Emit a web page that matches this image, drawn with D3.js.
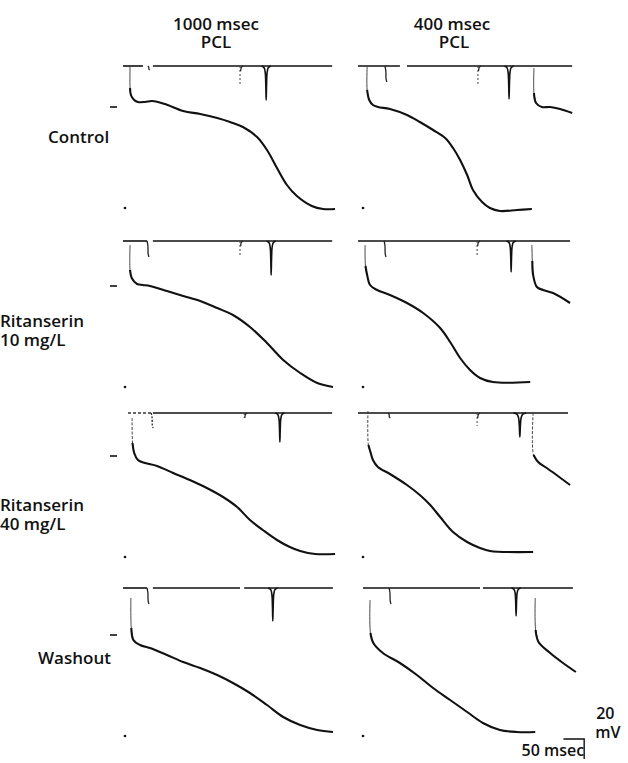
<!DOCTYPE html>
<html>
<head>
<meta charset="utf-8">
<script src="https://cdn.jsdelivr.net/npm/d3@7"></script>
<style>
  body { margin: 0; background: #fff; }
  text { font-family: "Open Sans", "DejaVu Sans", sans-serif; font-weight: 600; fill: #111; }
</style>
</head>
<body>
<div id="chart"></div>
<script>
// column headings (pacing cycle length) and row labels
const columnTitles = ["1000 msec", "400 msec"];
const rowLabels = [["Control"], ["Ritanserin", "10 mg/L"], ["Ritanserin", "40 mg/L"], ["Washout"]];

// action potentials, [time ms, membrane potential mV], one array per panel
const apControl1000 = [[17,41],[17,19],[19,12],[27,7],[36,5],[53,5],[70,6],[101,3],[145,-4],[186,-7],[227,-11],[258,-15],[289,-20],[323,-30],[347,-43],[371,-61],[395,-78],[419,-89],[455,-99],[482,-102],[511,-102]];
const apControl400 = [[22,40],[22,17],[27,7],[36,2],[48,0],[77,-2],[118,-8],[149,-15],[181,-23],[210,-31],[229,-41],[246,-53],[263,-68],[277,-83],[299,-95],[318,-101],[342,-104],[383,-103],[419,-102]];
const apControl400Next = [[424,39],[424,14],[429,4],[443,0],[463,0],[487,-2],[516,-6]];

const apRit10_1000 = [[17,41],[17,16],[21,8],[34,2],[48,1],[65,0],[106,-5],[145,-10],[186,-15],[227,-22],[265,-29],[306,-41],[347,-57],[386,-74],[427,-87],[468,-97],[506,-101]];
const apRit10_400 = [[17,41],[18,20],[22,11],[29,1],[46,-4],[77,-9],[118,-17],[157,-27],[198,-42],[222,-56],[246,-72],[270,-84],[294,-92],[325,-96],[415,-96]];
const apRit10_400Next = [[419,41],[420,25],[422,11],[431,-1],[446,-4],[470,-7],[511,-17]];

const apRit40_1000 = [[22,38],[23,13],[27,3],[36,-4],[53,-7],[82,-10],[121,-17],[161,-24],[202,-32],[241,-41],[275,-51],[306,-64],[337,-74],[371,-84],[402,-91],[427,-95],[463,-98],[511,-98]];
const apRit40_400 = [[24,45],[25,11],[30,4],[36,-4],[48,-11],[77,-18],[118,-29],[149,-39],[174,-49],[198,-61],[229,-76],[263,-86],[294,-92],[318,-95],[422,-96]];
const apRit40_400Next = [[422,43],[423,1],[434,-6],[455,-12],[511,-29]];

const apWash1000 = [[19,37],[20,7],[25,-5],[41,-10],[65,-13],[106,-20],[145,-27],[186,-33],[227,-40],[265,-48],[306,-58],[347,-70],[386,-82],[427,-90],[468,-95],[506,-97]];
const apWash400 = [[29,35],[30,2],[37,-8],[60,-18],[101,-28],[142,-40],[181,-53],[222,-65],[263,-77],[301,-88],[342,-95],[383,-97],[427,-97]];
const apWash400Next = [[427,37],[428,5],[435,-7],[463,-18],[494,-28],[525,-37]];

const apTraces = [
  [[apControl1000], [apControl400, apControl400Next]],
  [[apRit10_1000], [apRit10_400, apRit10_400Next]],
  [[apRit40_1000], [apRit40_400, apRit40_400Next]],
  [[apWash1000], [apWash400, apWash400Next]]
];

// upper reference channel: [start ms, end ms] of the line, breaks in it, faint dotted stretches
const refSpan = [[[0,504],[0,516]], [[0,504],[0,511]], [[12,504],[0,506]], [[0,506],[12,518]]];
const refGaps = [[[[48,72]],[[101,118]]], [[[58,72]],[]], [[[12,72]],[]], [[[58,72],[282,292]],[[294,301]]]];
const refDotted = [[[],[]], [[],[]], [[[12,72]],[]], [[],[]]];
// stimulus hook [ms, depth], small notch [ms, depth], sharp deflection [ms, depth]
const stimHook = [[[62,4],[67,16]], [[60,16],[65,16]], [[70,15],[75,5]], [[60,16],[77,16]]];
const notchTick = [[[282,18],[289,19]], [[282,15],[287,16]], [[292,5],[287,13]], [null,null]];
const spikes = [[[345,34],[364,33]], [[357,34],[369,31]], [[378,29],[390,24]], [[361,33],[381,28]]];
// shape of one deflection: [ms from tip, fraction of depth]
const spikeShape = [[-11,0],[-5,0.05],[-2.2,0.2],[-0.9,0.55],[0,1],[0.9,0.55],[2.2,0.2],[5,0.05],[11,0]];

// calibration marks and scale bar
const zeroMark = 0, lowMark = -100;
const barMs = 50, barMv = 20;

const W = 628, H = 763;
const colX0 = [123, 358];
const rowZero = [107, 286, 456, 635];
const rowRef = [66, 241, 413, 588];
const pxPerMs = 0.415;

const svg = d3.select("#chart").append("svg").attr("width", W).attr("height", H);

// headings
columnTitles.forEach((t, i) => {
  const cx = [216, 452][i];
  svg.append("text").attr("x", cx).attr("y", 30).attr("text-anchor", "middle").style("font-size", "17px").text(t);
  svg.append("text").attr("x", cx + [0, 2][i]).attr("y", 48).attr("text-anchor", "middle").style("font-size", "17px").text("PCL");
});

const labelX = [48, 0, 0, 38];
const labelY = [143, 327, 511, 664];
rowLabels.forEach((lines, r) => {
  lines.forEach((l, k) => {
    svg.append("text").attr("x", labelX[r]).attr("y", labelY[r] + k * 19).style("font-size", "17px").text(l);
  });
});

rowZero.forEach((z, r) => {
  colX0.forEach((x0, c) => {
    const x = d3.scaleLinear().domain([0, 500]).range([x0, x0 + 500 * pxPerMs]);
    const y = d3.scaleLinear().domain([-100, 0]).range([z + 100, z]);
    const yRef = d3.scaleLinear().domain([-40, 0]).range([rowRef[r] + 40, rowRef[r]]);
    const g = svg.append("g");

    // reference line with breaks
    const span = refSpan[r][c];
    const gaps = refGaps[r][c];
    let pieces = [], start = span[0];
    gaps.forEach(gp => { if (gp[0] > start) pieces.push([start, gp[0]]); start = gp[1]; });
    pieces.push([start, span[1]]);
    pieces.forEach(p => {
      g.append("line")
        .attr("x1", x(p[0])).attr("x2", x(p[1]))
        .attr("y1", yRef(0)).attr("y2", yRef(0))
        .style("stroke", "#111").style("stroke-width", 1.6);
    });
    refDotted[r][c].forEach(p => {
      g.append("line")
        .attr("x1", x(p[0])).attr("x2", x(p[1]))
        .attr("y1", yRef(0)).attr("y2", yRef(0))
        .style("stroke", "#333").style("stroke-width", 1.3).style("stroke-dasharray", "3,2");
    });

    const line = d3.line().x(d => x(d[0])).y(d => yRef(d[1])).curve(d3.curveCatmullRom);

    // stimulus hook
    const h = stimHook[r][c];
    g.append("path")
      .attr("d", line([[h[0] - 2, 0], [h[0], -h[1] * 0.3], [h[0] + 0.6, -h[1] * 0.8], [h[0] + 2.5, -h[1]]]))
      .style("fill", "none").style("stroke", "#222").style("stroke-width", 1.3)
      .style("stroke-dasharray", r === 2 && c === 0 ? "2,1.5" : null);

    // small notch
    const n = notchTick[r][c];
    if (n) {
      g.append("line").attr("x1", x(n[0])).attr("x2", x(n[0]))
        .attr("y1", yRef(0)).attr("y2", yRef(-n[1]))
        .style("stroke", "#444").style("stroke-width", 1).style("stroke-dasharray", "2,2");
      g.append("path")
        .attr("d", line([[n[0] + 1.5, -5], [n[0] + 3, -1.5], [n[0] + 7, 0]]))
        .style("fill", "none").style("stroke", "#222").style("stroke-width", 1.3);
    }

    // sharp deflection
    const s = spikes[r][c];
    g.append("path")
      .attr("d", line(spikeShape.map(d => [s[0] + d[0] * (r === 2 && c === 1 ? 1.4 : 1), -d[1] * s[1]])))
      .style("fill", "none").style("stroke", "#111").style("stroke-width", 1.6);

    // action potentials
    const apLine = d3.line().x(d => x(d[0])).y(d => y(d[1])).curve(d3.curveCatmullRom);
    apTraces[r][c].forEach(ap => {
      g.append("path").attr("d", apLine(ap.slice(0, 3)))
        .style("fill", "none").style("stroke", "#333").style("stroke-width", 0.9)
        .style("stroke-dasharray", r === 2 ? "3,1.5" : null);
      g.append("path").attr("d", apLine(ap.slice(1)))
        .style("fill", "none").style("stroke", "#111").style("stroke-width", 2.1);
    });

    // calibration marks
    if (c === 0) {
      g.append("line").attr("x1", x0 - 13).attr("x2", x0 - 6)
        .attr("y1", y(zeroMark)).attr("y2", y(zeroMark))
        .style("stroke", "#111").style("stroke-width", 1.6);
    }
    g.append("circle").attr("cx", x0 + [2, 5][c]).attr("cy", y(lowMark) + 1).attr("r", 1.3).style("fill", "#111");

    // scale bar in the last panel
    if (r === 3 && c === 1) {
      const bx = x(545), by = y(-104);
      const bar = d3.path();
      bar.moveTo(bx - barMs * pxPerMs, by);
      bar.lineTo(bx, by);
      bar.lineTo(bx, by - (y(0) - y(-barMv)));
      g.append("path").attr("d", bar.toString())
        .style("fill", "none").style("stroke", "#111").style("stroke-width", 1.4);
      svg.append("text").attr("x", bx + 12).attr("y", by - 20).style("font-size", "16px").text("20");
      svg.append("text").attr("x", bx + 11).attr("y", by - 1).style("font-size", "16px").text("mV");
      svg.append("text").attr("x", bx).attr("y", by + 17).attr("text-anchor", "end").style("font-size", "16px").text("50 msec");
    }
  });
});
</script>
</body>
</html>
